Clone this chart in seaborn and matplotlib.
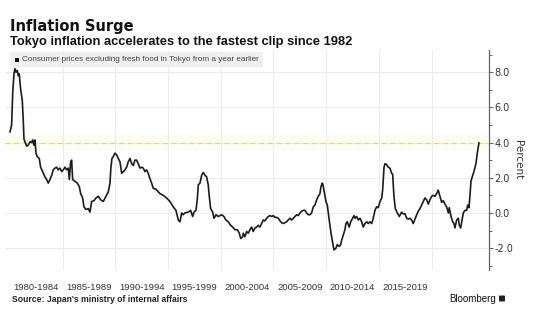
import numpy as np
import pandas as pd
import seaborn as sns
import matplotlib.pyplot as plt
from matplotlib.patches import Rectangle, FancyBboxPatch
from matplotlib.ticker import FixedLocator, FuncFormatter

# ---- data ----
years = [
    1980.00, 1980.16, 1980.26, 1980.38, 1980.47, 1980.57, 1980.69, 1980.79, 1980.88, 1981.02,
    1981.17, 1981.26, 1981.33, 1981.42, 1981.58, 1981.74, 1981.90, 1982.06, 1982.15, 1982.28,
    1982.37, 1982.47, 1982.59, 1982.78, 1982.91, 1983.10, 1983.32, 1983.48, 1983.63, 1983.80,
    1983.96, 1984.11, 1984.27, 1984.43, 1984.58, 1984.74, 1984.91, 1985.06, 1985.22, 1985.38,
    1985.53, 1985.63, 1985.76, 1985.85, 1985.95, 1986.17, 1986.39, 1986.58, 1986.71, 1986.90,
    1987.02, 1987.21, 1987.43, 1987.59, 1987.75, 1987.97, 1988.16, 1988.38, 1988.61, 1988.85,
    1989.11, 1989.33, 1989.49, 1989.58, 1989.68, 1989.80, 1989.96, 1990.12, 1990.28, 1990.44,
    1990.60, 1990.75, 1990.91, 1991.07, 1991.22, 1991.39, 1991.55, 1991.70, 1991.86, 1992.02,
    1992.17, 1992.33, 1992.50, 1992.65, 1992.81, 1992.97, 1993.12, 1993.28, 1993.44, 1993.60,
    1993.85, 1994.07, 1994.23, 1994.55, 1994.87, 1995.18, 1995.49, 1995.75, 1995.97, 1996.13,
    1996.29, 1996.44, 1996.60, 1996.92, 1997.14, 1997.33, 1997.46, 1997.65, 1997.77, 1997.87,
    1998.03, 1998.19, 1998.34, 1998.50, 1998.66, 1998.81, 1998.91, 1999.04, 1999.23, 1999.36,
    1999.55, 1999.76, 2000.09, 2000.30, 2000.49, 2000.71, 2000.94, 2001.13, 2001.35, 2001.57,
    2001.76, 2001.89, 2002.08, 2002.14, 2002.30, 2002.46, 2002.61, 2002.77, 2002.93, 2003.08,
    2003.25, 2003.41, 2003.56, 2003.72, 2003.88, 2004.03, 2004.19, 2004.36, 2004.51, 2004.67,
    2004.83, 2004.98, 2005.14, 2005.30, 2005.46, 2005.62, 2005.78, 2005.93, 2006.09, 2006.25,
    2006.40, 2006.57, 2006.73, 2006.88, 2007.04, 2007.20, 2007.35, 2007.52, 2007.68, 2007.83,
    2007.99, 2008.15, 2008.30, 2008.46, 2008.62, 2008.78, 2008.94, 2009.10, 2009.25, 2009.41,
    2009.51, 2009.63, 2009.70, 2009.79, 2009.98, 2010.11, 2010.29, 2010.46, 2010.62, 2010.74,
    2010.93, 2011.05, 2011.24, 2011.38, 2011.47, 2011.62, 2011.78, 2011.88, 2012.00, 2012.19,
    2012.33, 2012.51, 2012.64, 2012.73, 2012.89, 2013.05, 2013.21, 2013.37, 2013.52, 2013.68,
    2013.84, 2013.99, 2014.16, 2014.32, 2014.47, 2014.63, 2014.79, 2014.94, 2015.11, 2015.27,
    2015.36, 2015.49, 2015.58, 2015.74, 2015.89, 2016.05, 2016.22, 2016.31, 2016.43, 2016.56,
    2016.75, 2016.94, 2017.16, 2017.31, 2017.48, 2017.64, 2017.79, 2017.95, 2018.11, 2018.26,
    2018.42, 2018.59, 2018.74, 2018.90, 2019.06, 2019.21, 2019.37, 2019.54, 2019.69, 2019.85,
    2020.01, 2020.16, 2020.32, 2020.48, 2020.63, 2020.80, 2020.96, 2021.11, 2021.27, 2021.43,
    2021.59, 2021.68, 2021.81, 2021.91, 2022.00, 2022.13, 2022.22, 2022.38, 2022.54, 2022.63,
    2022.76, 2022.89, 2023.01, 2023.17, 2023.33, 2023.43, 2023.55, 2023.64, 2023.74, 2023.86,
    2024.02, 2024.21, 2024.34, 2024.50,
]
values = [
    4.6, 5.0, 6.8, 7.9, 8.2, 8.0, 8.1, 7.8, 7.9, 7.0,
    6.4, 5.3, 4.2, 4.05, 3.8, 3.85, 4.05, 4.0, 4.15, 3.85,
    4.15, 3.4, 3.2, 3.1, 2.6, 2.35, 2.05, 1.9, 1.7, 1.9,
    2.15, 2.45, 2.55, 2.6, 2.45, 2.55, 2.35, 2.45, 2.6, 2.45,
    2.55, 1.9, 2.9, 3.0, 1.9, 1.8, 1.7, 1.5, 1.1, 0.85,
    0.35, 0.2, 0.25, 0.05, 0.65, 0.7, 0.85, 0.95, 0.75, 0.65,
    0.95, 1.2, 1.7, 2.6, 3.1, 3.2, 3.4, 3.3, 3.1, 2.9,
    2.25, 2.35, 2.45, 2.6, 2.9, 3.1, 2.8, 2.7, 3.0, 3.0,
    2.8, 2.55, 2.6, 2.55, 2.35, 2.45, 2.25, 1.95, 1.7, 1.4,
    1.35, 1.2, 1.1, 1.0, 0.85, 0.65, 0.35, 0.15, -0.4, -0.5,
    0.0, -0.1, 0.0, 0.05, 0.15, -0.2, 0.05, 0.15, 0.75, 1.6,
    1.7, 2.15, 2.3, 2.15, 2.05, 1.6, 0.95, 0.25, 0.05, -0.3,
    -0.1, -0.2, -0.1, -0.2, -0.4, -0.5, -0.7, -0.8, -0.95, -0.95,
    -1.15, -1.45, -1.35, -1.15, -1.35, -1.05, -1.15, -0.95, -0.8, -1.05,
    -0.85, -0.8, -0.7, -0.8, -0.6, -0.4, -0.45, -0.3, -0.2, -0.15,
    -0.2, -0.15, -0.25, -0.25, -0.3, -0.45, -0.55, -0.6, -0.55, -0.5,
    -0.4, -0.3, -0.4, -0.3, -0.2, -0.1, -0.15, 0.0, 0.1, 0.15,
    0.15, 0.0, -0.1, -0.1, 0.0, 0.35, 0.45, 0.75, 0.95, 1.1,
    1.5, 1.7, 1.6, 1.3, 0.65, 0.45, -0.4, -1.15, -1.7, -2.1,
    -2.0, -1.8, -1.9, -1.8, -1.55, -1.25, -0.95, -0.6, -0.5, -0.8,
    -0.5, -0.3, -0.15, -0.3, -0.2, -0.4, -0.3, -0.5, -0.8, -0.6,
    -0.5, -0.6, -0.5, -0.6, -0.3, 0.15, 0.35, 0.3, 0.65, 0.85,
    1.3, 2.6, 2.8, 2.75, 2.6, 2.55, 2.25, 2.2, 0.95, 0.25,
    0.0, -0.2, 0.05, -0.05, -0.05, -0.3, -0.35, -0.3, -0.4, -0.6,
    -0.35, -0.1, 0.1, 0.25, 0.45, 0.65, 0.85, 0.75, 0.5, 0.75,
    0.95, 1.0, 0.95, 1.1, 1.3, 0.95, 0.6, 0.7, 0.5, 0.35,
    0.0, 0.3, -0.1, -0.3, -0.5, -0.6, -0.85, -0.4, -0.3, -0.7,
    -0.85, -0.4, 0.0, 0.15, 0.15, 0.45, 0.3, 0.95, 1.8, 2.05,
    2.35, 2.8, 3.4, 4.0,
]
period_labels = ["1980-1984", "1985-1989", "1990-1994", "1995-1999",
                 "2000-2004", "2005-2009", "2010-2014", "2015-2019"]
period_starts = [1980, 1985, 1990, 1995, 2000, 2005, 2010, 2015]
period_bounds = [1985, 1990, 1995, 2000, 2005, 2010, 2015, 2020]
y_major = [-2, 0, 2, 4, 6, 8]
y_minor = [-3, -1, 1, 3, 5, 7, 9]
highlight_level = 4.0

title = "Inflation Surge"
subtitle = "Tokyo inflation accelerates to the fastest clip since 1982"
legend_label = "Consumer prices excluding fresh food in Tokyo from a year earlier"
source = "Source: Japan's ministry of internal affairs"

# ---- style ----
sns.set_theme(style="white")
plt.rcParams['font.family'] = ['DejaVu Sans']
plt.rcParams['axes.unicode_minus'] = False

W, H = 540, 329
fig = plt.figure(figsize=(W / 100, H / 100), dpi=100)
fig.patch.set_facecolor("white")

ax_left, ax_right, ax_top, ax_bottom = 5, 489, 50, 270
ax = fig.add_axes([ax_left / W, 1 - ax_bottom / H,
                   (ax_right - ax_left) / W, (ax_bottom - ax_top) / H])
ax.set_facecolor("white")

df = pd.DataFrame({"year": years, "value": values})

ax.axhspan(highlight_level - 0.45, highlight_level + 0.45, color="#fefdf3", lw=0, zorder=0)
sns.lineplot(data=df, x="year", y="value", ax=ax, color="#1c1c1c",
             linewidth=1.2, estimator=None, sort=False, zorder=4)
ax.axhline(highlight_level, color="#e8dc5c", lw=0.9, ls=(0, (4, 3)), zorder=3)

ax.set_xlim(1979.53, 2025.45)
ax.set_ylim(-3.24, 9.26)

# x axis: gridlines at period bounds, labels centered in periods
ax.xaxis.set_major_locator(FixedLocator(period_bounds))
ax.xaxis.set_major_formatter(FuncFormatter(lambda v, p: ""))
ax.set_xticks([s + 2.5 for s in period_starts], minor=True)
ax.set_xticklabels(period_labels, minor=True, fontsize=6.8,
                   family="Liberation Sans", color="#333333")
ax.tick_params(axis="x", which="both", length=0, pad=9.5)
ax.set_xlabel("")

# y axis on right
ax.yaxis.tick_right()
ax.set_yticks(y_major)
ax.set_yticks(y_minor, minor=True)
ax.yaxis.set_major_formatter(FuncFormatter(lambda v, p: f"{v:.1f}"))
ax.tick_params(axis="y", which="major", length=3, width=0.8, color="#666666",
               labelsize=7, labelcolor="#333333", pad=1)
ax.tick_params(axis="y", which="minor", length=2, width=0.7, color="#666666")
ax.set_ylabel("")

ax.grid(True, which="major", axis="both", color="#ececec", lw=0.7, zorder=0)
ax.set_axisbelow(True)
for side in ["top", "left", "bottom"]:
    ax.spines[side].set_visible(False)
ax.spines["right"].set_color("#666666")
ax.spines["right"].set_linewidth(0.9)

fig.text(518.5 / W, 1 - 160 / H, "Percent", rotation=270, ha="center", va="center",
         fontsize=7.5, color="#333333")

# titles
fig.text(10 / W, 1 - 31 / H, title, fontsize=10.5, fontweight="bold",
         color="#111111", va="baseline", ha="left")
fig.text(10 / W, 1 - 45 / H, subtitle, fontsize=9.3, fontweight="bold",
         family="Liberation Sans", color="#111111", va="baseline", ha="left")

# legend box
fig.patches.append(Rectangle((10 / W, 1 - 67 / H), 253 / W, 15 / H,
                             transform=fig.transFigure, facecolor="#efefef",
                             edgecolor="none", zorder=5))
fig.patches.append(Rectangle((15 / W, 1 - 62 / H), 4 / W, 4 / H,
                             transform=fig.transFigure, facecolor="#111111",
                             edgecolor="none", zorder=6))
fig.text(21.5 / W, 1 - 59.5 / H, legend_label, fontsize=5.9, family="Liberation Sans",
         color="#444444", va="center", ha="left", zorder=7)

# footer
fig.text(12 / W, 1 - 302 / H, source, fontsize=6.2, fontweight="bold",
         family="Liberation Sans", color="#222222", va="baseline", ha="left")
fig.text(496 / W, 1 - 302 / H, "Bloomberg", fontsize=7, family="Liberation Sans",
         color="#111111", va="baseline", ha="right")
fig.patches.append(FancyBboxPatch((499 / W, 1 - 301.5 / H), 6 / W, 6 / H,
                                  boxstyle="round,pad=0,rounding_size=0.002",
                                  transform=fig.transFigure, facecolor="#222222",
                                  edgecolor="none", zorder=6))

fig.savefig("out.png", dpi=100, facecolor="white")
